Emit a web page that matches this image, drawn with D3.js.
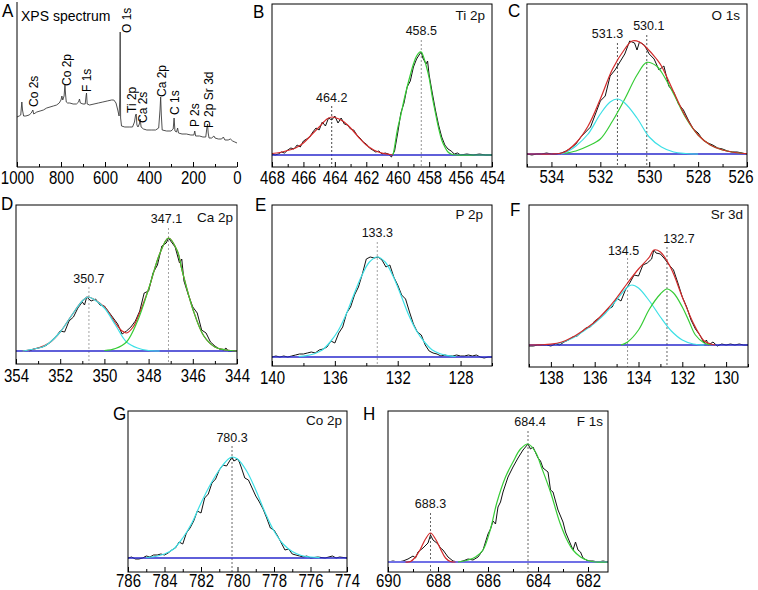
<!DOCTYPE html>
<html>
<head>
<meta charset="utf-8">
<script src="https://cdn.jsdelivr.net/npm/d3@7"></script>
<style>
  body { margin: 0; background: #fff; }
  svg { font-family: "Liberation Sans", Arial, Helvetica, sans-serif; }
</style>
</head>
<body>
<div id="chart"></div>
<script>
// ---- A: survey spectrum (binding energy, eV / counts a.u.) ----
var surveyBE = [1000, 990, 983, 978, 975, 970, 960, 945, 935, 928, 924, 910, 895, 880, 865, 850, 835, 820, 808, 800,
  796, 792, 786, 782, 779, 776, 770, 760, 745, 730, 720, 716, 712, 700, 690, 686, 684, 681, 670, 650,
  630, 610, 590, 570, 560, 550, 542, 536, 533, 531, 529, 525, 510, 490, 475, 466, 461, 458, 455, 450,
  444, 440, 436, 425, 410, 390, 370, 356, 350, 347, 344, 340, 320, 300, 290, 286, 282, 275, 270, 266,
  250, 230, 210, 196, 192, 188, 170, 155, 142, 137, 134, 131, 127, 115, 105, 100, 85, 70, 62, 55,
  40, 30, 20, 10, 0];
var surveyCounts = [50, 51, 52, 65, 57, 51, 51, 52, 54, 57, 53, 55, 56, 57, 59, 60, 61, 62, 64, 67,
  71, 67, 71, 82, 72, 65, 64, 64, 63, 63, 65, 68, 64, 63, 63, 71, 74, 63, 62, 63,
  64, 65, 66, 67, 67, 64, 57, 51, 67, 135, 49, 41, 40, 40, 40, 45, 52, 53, 42, 40,
  43, 48, 40, 38, 37, 37, 37, 39, 57, 70, 52, 37, 36, 36, 38, 49, 36, 35, 39, 34,
  33, 33, 32, 32, 36, 31, 31, 30, 30, 39, 43, 34, 29, 29, 31, 29, 28, 28, 30, 27,
  27, 28, 26, 25, 24];
var surveyNames = ["Co 2s", "Co 2p", "F 1s", "O 1s", "Ti 2p", "Ca 2s", "Ca 2p", "C 1s", "P 2s", "P 2p Sr 3d"];
var surveyNameAt = [923, 773, 682, 500, 477, 427, 341, 282, 191, 127];

// ---- B: Ti 2p ----
var tiPeaks = [464.2, 458.5];
var tiRaw = [[468,1],[467.8,0],[467.6,1],[467.4,3],[467.2,2],[467,5],[466.8,7],[466.6,6],[466.4,10],[466.2,8],
  [466,14],[465.8,16],[465.6,18],[465.4,23],[465.2,27],[465,25],[464.8,33],[464.6,29],[464.4,37],[464.2,35],
  [464,39],[463.8,32],[463.6,37],[463.4,31],[463.2,30],[463,26],[462.8,25],[462.6,20],[462.4,17],[462.2,13],
  [462,11],[461.8,7],[461.6,5],[461.4,3],[461.2,4],[461,1],[460.8,2],[460.6,1],[460.4,-2],[460.2,4],
  [460,22],[459.8,42],[459.6,52],[459.4,68],[459.2,74],[459,88],[458.8,96],[458.6,101],[458.5,103],[458.4,97],
  [458.2,91],[458.1,94],[458,80],[457.8,62],[457.6,45],[457.4,30],[457.2,18],[457,10],[456.8,6],[456.6,4],
  [456.4,1],[456.2,2],[456,0],[455.6,1],[455.2,0],[454.8,1],[454.4,0],[454,0]];
var tiFitHigh = [[468,1.5],[467.5,2.5],[467,4.5],[466.5,7],[466,12],[465.5,20],[465,28],[464.5,36],[464.2,38],[464,37.5],
  [463.5,34],[463,27],[462.5,18],[462,10],[461.5,4.8],[461,1.9],[460.5,0.5],[460.3,0]];
var tiFitLow = [[460.3,0],[460.2,8],[460.1,18],[460,27],[459.8,40],[459.6,55],[459.4,68],[459.2,80],[459,91],[458.8,99],
  [458.6,103],[458.5,103],[458.4,100],[458.2,90],[458,77],[457.8,58],[457.6,42],[457.4,27],[457.2,15],[457,8],
  [456.8,3],[456.6,1],[456.3,0],[455,0],[454,0]];

// ---- C: O 1s ----
var oPeaks = [531.3, 530.1];
var oRaw = [[535,0],[534.8,-1],[534.6,0],[534.4,0],[534.2,1],[534,0],[533.8,0],[533.6,1],[533.4,3],[533.2,6],
  [533,10],[532.8,17],[532.6,22],[532.4,27],[532.2,40],[532,53],[531.8,58],[531.6,78],[531.4,84],[531.2,92],
  [531,100],[530.8,113],[530.6,111],[530.5,104],[530.4,112],[530.2,109],[530,100],[529.8,95],[529.6,84],[529.4,88],
  [529.2,68],[529,62],[528.8,50],[528.6,44],[528.4,34],[528.2,25],[528,21],[527.8,14],[527.6,11],[527.4,9],
  [527.2,6],[527,5],[526.8,3],[526.6,2],[526.4,2],[526.2,1],[526,0]];
var oFitOH = [[533.6,0],[533.3,3],[533,8],[532.5,20],[532,40],[531.6,52],[531.3,55],[531,51],[530.5,36],[530,17],
  [529.5,7],[529,2],[528.5,0.5],[528,0]];
var oFitLattice = [[533.5,0.5],[533,3],[532.5,8],[532,15],[531.5,33],[531,55],[530.5,79],[530.1,91.6],[529.7,88],[529.5,82],
  [529,60],[528.5,36],[528,19],[527.5,9],[527,4],[526.5,1.5],[526,0.3]];
var oEnvelope = [[535,0],[534.5,0],[534,0],[533.5,1.5],[533,11],[532.5,28],[532,55],[531.5,85],[531,105],[530.7,113],
  [530.4,112],[530.1,106],[529.7,95],[529.5,88],[529,62],[528.5,37],[528,19],[527.5,9],[527,4],[526.5,1.5],[526,0.3]];

// ---- D: Ca 2p ----
var caPeaks = [350.7, 347.1];
var caRaw = [[353.4,0],[353.2,2],[353,3],[352.8,4],[352.6,6],[352.4,10],[352.2,14],[352,20],[351.8,19],[351.6,30],
  [351.4,34],[351.2,43],[351,49],[350.9,46],[350.8,54],[350.6,50],[350.4,52],[350.2,46],[350,45],[349.8,39],
  [349.6,33],[349.4,27],[349.2,17],[349,20],[348.8,24],[348.6,30],[348.4,40],[348.2,58],[348,60],[347.8,78],
  [347.6,86],[347.4,105],[347.2,108],[347.1,113],[347,110],[346.8,104],[346.6,88],[346.5,92],[346.4,70],[346.2,56],
  [346,44],[345.8,38],[345.6,21],[345.4,18],[345.2,9],[345,5],[344.8,2],[344.6,1],[344.5,3],[344.4,0],
  [344.2,0],[344,0]];
var caFit12 = [[353.7,0],[353.2,2],[352.8,4],[352.5,8],[352,19],[351.5,35],[351,50],[350.75,54],[350.5,52],[350,43],
  [349.5,26],[349,9],[348.5,3],[348,0.5],[347.5,0]];
var caFit32 = [[350,0.5],[349.5,2.5],[349,9],[348.5,30],[348,62],[347.5,97],[347.1,113],[346.7,100],[346.5,82],[346,42],
  [345.5,15],[345,4],[344.5,1],[344,0]];
var caEnvelope = [[353.7,0],[353,3],[352.5,8],[352,19],[351.5,35],[351,50],[350.75,54],[350.5,52],[350,44],[349.5,28],
  [349.2,20],[349,18],[348.7,24],[348.5,33],[348,62],[347.5,97],[347.1,113],[346.7,100],[346.5,82],[346,42],
  [345.5,15],[345,4],[344.5,1],[344,0]];

// ---- E: P 2p ----
var pPeaks = [133.3];
var pRaw = [[140,0],[139.75,1],[139.5,0],[139.25,1],[139,0],[138.75,1],[138.5,2],[138.25,3],[138,3],[137.75,4],
  [137.5,5],[137.25,4],[137,7],[136.75,8],[136.5,10],[136.25,16],[136,14],[135.75,24],[135.5,30],[135.25,44],
  [135,50],[134.75,62],[134.5,70],[134.25,83],[134,98],[133.75,100],[133.5,99],[133.25,100],[133,97],[132.75,90],
  [132.5,92],[132.25,80],[132,72],[131.75,62],[131.5,58],[131.25,45],[131,33],[130.75,25],[130.5,22],[130.25,12],
  [130,6],[129.75,4],[129.5,3],[129.25,1],[129,2],[128.75,1],[128.5,1],[128.25,2],[128,1],[127.75,1],
  [127.5,2],[127.25,1],[127,2],[126.75,0],[126.5,-1],[126.25,0],[126,0]];
var pFit = [[138.3,0.5],[137.8,1.3],[137.3,3.3],[136.8,7],[136.3,15],[135.8,26],[135.3,42],[134.8,62],[134.3,81],[133.8,95],
  [133.3,100],[132.8,95],[132.3,81],[131.8,62],[131.3,42],[130.8,26],[130.3,15],[129.8,7],[129.3,3.3],[128.8,1.3],[128.3,0.5]];

// ---- F: Sr 3d ----
var srPeaks = [134.5, 132.7];
var srRaw = [[139,-1],[138.8,-1],[138.6,0],[138.4,0],[138.2,0],[138,-1],[137.8,1],[137.6,0],[137.4,3],[137.2,5],
  [137,8],[136.8,9],[136.6,13],[136.4,17],[136.2,18],[136,24],[135.8,27],[135.6,31],[135.4,36],[135.2,38],
  [135,47],[134.8,44],[134.6,55],[134.4,62],[134.2,70],[134,69],[133.8,80],[133.6,82],[133.4,86],[133.3,95],
  [133.2,92],[133,91],[132.8,86],[132.6,80],[132.4,75],[132.2,62],[132,48],[131.8,38],[131.6,25],[131.4,16],
  [131.2,10],[131,2],[130.9,5],[130.8,0],[130.6,3],[130.4,-1],[130.2,1],[130,0],[129.8,1],[129.6,0],
  [129.4,1],[129.2,0],[129,0]];
var srFit52 = [[137.8,1],[137.5,2.5],[137,7],[136.5,14],[136,22],[135.5,32],[135,45],[134.5,58],[134.3,60],[134,57],
  [133.5,44],[133,28],[132.5,14],[132,5],[131.5,1],[131,0]];
var srFit32 = [[134.8,0],[134.5,3],[134,15],[133.5,36],[133,51],[132.7,56],[132.4,52],[132,38],[131.7,24],[131.4,10],
  [131,2],[130.7,0]];
var srEnvelope = [[139,0],[138.5,0.2],[138,0.8],[137.5,3],[137,8],[136.5,15],[136,23],[135.5,34],[135,47],[134.5,62],
  [134,76],[133.5,88],[133.3,95],[133,93],[132.5,76],[132,48],[131.5,22],[131.2,10],[131,4],[130.7,1],[130.5,0]];

// ---- G: Co 2p ----
var coPeaks = [780.3];
var coRaw = [[786,0],[785.8,1],[785.6,-1],[785.4,-1],[785.2,0],[785,2],[784.8,1],[784.6,3],[784.4,3],[784.2,4],
  [784,3],[783.8,5],[783.6,8],[783.4,10],[783.2,16],[783,14],[782.8,25],[782.6,30],[782.4,37],[782.2,47],
  [782,45],[781.8,60],[781.6,64],[781.4,75],[781.2,79],[781,88],[780.8,93],[780.6,92],[780.4,98],[780.3,101],
  [780.2,97],[780,99],[779.9,96],[779.8,91],[779.6,80],[779.4,78],[779.2,70],[779,62],[778.8,56],[778.6,49],
  [778.4,40],[778.2,30],[778,28],[777.8,22],[777.6,15],[777.4,8],[777.2,9],[777,4],[776.8,3],[776.6,2],
  [776.4,1],[776.2,2],[776,0],[775.6,1],[775.2,0],[774.8,2],[774.6,0],[774.4,1],[774,0]];
var coFit = [[785,0.5],[784.5,1.5],[784,4],[783.5,9],[783,20],[782.5,35],[782,55],[781.5,73],[781,88],[780.5,99],
  [780.3,101],[780,99],[779.5,87],[779,68],[778.5,46],[778,27],[777.5,14],[777,6.5],[776.5,2.5],[776,1],[775.5,0.3]];

// ---- H: F 1s ----
var fPeaks = [688.3, 684.4];
var fRaw = [[690,0],[689.8,1],[689.6,0],[689.4,1],[689.2,3],[689,6],[688.9,4],[688.8,10],[688.6,14],[688.4,19],
  [688.3,27],[688.2,22],[688,18],[687.9,14],[687.8,12],[687.6,5],[687.4,1],[687.2,0],[687,1],[686.8,3],
  [686.6,2],[686.4,5],[686.2,12],[686,28],[685.9,33],[685.8,41],[685.7,38],[685.6,55],[685.5,60],[685.4,70],
  [685.2,85],[685,95],[684.8,104],[684.6,112],[684.4,118],[684.3,113],[684.2,115],[684,104],[683.9,101],[683.8,94],
  [683.6,90],[683.5,72],[683.4,70],[683.2,52],[683,40],[682.9,30],[682.8,24],[682.6,12],[682.5,20],[682.4,12],
  [682.3,10],[682.2,4],[682,1],[681.8,1],[681.6,0],[681.4,1],[681.2,0]];
var fFitMinor = [[689.3,0],[689.1,0.5],[688.9,5],[688.7,13],[688.5,23],[688.3,29],[688.1,23],[687.9,13],[687.7,4],[687.5,0.5],[687.3,0]];
var fFitMain = [[687.2,0],[686.8,2],[686.5,5],[686.2,12],[685.9,33],[685.65,59],[685.3,85],[685,100],[684.7,113],[684.4,118],
  [684.1,110],[683.85,94],[683.5,70],[683.12,39],[682.8,20],[682.6,12],[682.3,5],[682,1.5],[681.7,0],[681.2,0]];

// colours
var GREEN = "#36cc36", CYAN = "#3de0e6", RED = "#d22a2a", BLUE = "#2a2acc";

var width = 758,
  height = 590;

var svg = d3.select("#chart").append("svg")
  .attr("width", width)
  .attr("height", height);

function panelLetter(txt, x, y) {
  svg.append("text")
    .attr("transform", "translate(" + x + "," + y + ") scale(1,1.1)")
    .attr("font-size", 17)
    .attr("fill", "#000")
    .text(txt);
}

function bottomTicks(g, x, bottom, major, minor, lblOff) {
  var dom = x.domain(),
    lo = Math.min(dom[0], dom[1]),
    hi = Math.max(dom[0], dom[1]);
  var all = d3.range(Math.ceil(lo / minor) * minor, hi + 1e-6, minor);
  var majors = all.filter(function(v) { return Math.abs(v / major - Math.round(v / major)) < 1e-6; });
  var minors = all.filter(function(v) { return majors.indexOf(v) < 0; });

  g.append("g")
    .attr("transform", "translate(0," + bottom + ")")
    .call(d3.axisBottom(x).tickValues(minors).tickSize(-3).tickFormat(""))
    .call(function(a) { a.select(".domain").remove(); });

  var ax = g.append("g")
    .attr("transform", "translate(0," + bottom + ")")
    .call(d3.axisBottom(x).tickValues(majors).tickSize(-5).tickFormat(d3.format("d")));
  ax.select(".domain").remove();
  ax.selectAll(".tick line").attr("stroke", "#000");
  ax.selectAll(".tick text")
    .attr("y", null)
    .attr("dy", null)
    .attr("font-size", 15)
    .attr("font-family", null)
    .attr("fill", "#000")
    .attr("transform", function(v) {
      // keep the last label inside the page
      var w = this.getComputedTextLength(),
        shift = Math.min(0, (width - 5) - (x(v) + w / 2));
      return "translate(" + shift + "," + lblOff + ") scale(1,1.2)";
    });
  return ax;
}

// ---------- panel A ----------
(function() {
  var left = 17, right = 237, top = 2, bottom = 167;
  var x = d3.scaleLinear().domain([1000, 0]).range([left, right]);
  var y = d3.scaleLinear().domain([0, 165]).range([bottom, top]);
  var labelBottom = [107, 86, 92, 33, 113, 123, 97, 115, 127, 128];

  var g = svg.append("g");
  var survey = surveyBE.map(function(be, i) { return [be, surveyCounts[i]]; });

  g.append("path")
    .datum(survey)
    .attr("fill", "none")
    .attr("stroke", "#3c3c3c")
    .attr("stroke-width", 0.9)
    .attr("d", d3.line().x(function(d) { return x(d[0]); }).y(function(d) { return y(d[1]); }));

  g.append("line")
    .attr("x1", left).attr("x2", left)
    .attr("y1", top).attr("y2", bottom)
    .attr("stroke", "#000");
  g.append("line")
    .attr("x1", left).attr("x2", right)
    .attr("y1", bottom).attr("y2", bottom)
    .attr("stroke", "#000");

  bottomTicks(g, x, bottom, 200, 100, 17);

  g.append("text")
    .attr("x", 21).attr("y", 21)
    .attr("font-size", 14)
    .text("XPS spectrum");

  surveyNames.forEach(function(name, i) {
    g.append("text")
      .attr("transform", "translate(" + x(surveyNameAt[i]) + "," + labelBottom[i] + ") rotate(-90)")
      .attr("dy", "0.36em")
      .attr("font-size", 12)
      .text(name);
  });

  panelLetter("A", 2, 17);
})();

// ---------- detail panels ----------
var panels = [
  { id: "B", name: "Ti 2p", left: 272, right: 492, top: 4, bottom: 167, base: 155, domain: [468, 454], major: 2, minor: 1,
    raw: tiRaw, fits: [[tiFitHigh, RED], [tiFitLow, GREEN]], peaks: tiPeaks,
    peakLabelY: [101.5, 35], peakLineTop: [106, 40], peakDx: [0, 0], peakColor: ["#333", "#888"],
    nameRight: 485, nameY: 20, letter: [253, 18], lblOff: 17 },
  { id: "C", name: "O 1s", left: 527, right: 747, top: 4, bottom: 167, base: 154, domain: [535, 526], major: 2, minor: 1,
    raw: oRaw, fits: [[oFitLattice, GREEN], [oFitOH, CYAN], [oEnvelope, RED]], peaks: oPeaks,
    peakLabelY: [38, 29.5], peakLineTop: [43, 35], peakDx: [-10, 2], peakColor: ["#444", "#444"],
    nameRight: 740, nameY: 20, letter: [508, 17], lblOff: 16 },
  { id: "D", name: "Ca 2p", left: 16, right: 237, top: 205, bottom: 364, base: 351, domain: [354, 344], major: 2, minor: 1,
    raw: caRaw, fits: [[caEnvelope, RED], [caFit12, CYAN], [caFit32, GREEN]], peaks: caPeaks,
    peakLabelY: [282.5, 223], peakLineTop: [287, 228], peakDx: [0, -2], peakColor: ["#999", "#999"],
    nameRight: 233, nameY: 222, letter: [1, 210], lblOff: 18 },
  { id: "E", name: "P 2p", left: 272, right: 492, top: 205, bottom: 366, base: 357, domain: [140, 126], major: 4, minor: 2,
    raw: pRaw, fits: [[pFit, CYAN]], peaks: pPeaks,
    peakLabelY: [236.5], peakLineTop: [242], peakDx: [0], peakColor: ["#999"],
    nameRight: 483, nameY: 219, letter: [255, 211], lblOff: 18 },
  { id: "F", name: "Sr 3d", left: 529, right: 748, top: 205, bottom: 367, base: 345, domain: [139, 129], major: 2, minor: 1,
    raw: srRaw, fits: [[srFit52, CYAN], [srFit32, GREEN], [srEnvelope, RED]], peaks: srPeaks,
    peakLabelY: [255, 243], peakLineTop: [258, 247], peakDx: [-4, 12], peakColor: ["#888", "#555"],
    nameRight: 743, nameY: 219, letter: [510, 216], lblOff: 17 },
  { id: "G", name: "Co 2p", left: 128, right: 347, top: 411, bottom: 572, base: 558, domain: [786, 774], major: 2, minor: 1,
    raw: coRaw, fits: [[coFit, CYAN]], peaks: coPeaks,
    peakLabelY: [441.5], peakLineTop: [446], peakDx: [0], peakColor: ["#555"],
    nameRight: 342, nameY: 425, letter: [113, 420], lblOff: 15 },
  { id: "H", name: "F 1s", left: 388, right: 608, top: 411, bottom: 572, base: 562, domain: [690, 681.2], major: 2, minor: 1,
    raw: fRaw, fits: [[fFitMinor, RED], [fFitMain, GREEN]], peaks: fPeaks,
    peakLabelY: [508, 426], peakLineTop: [513, 431], peakDx: [0, 2], peakColor: ["#555", "#555"],
    nameRight: 603, nameY: 426, letter: [363, 420], lblOff: 15, baseColor: "#7070e6", baseWidth: 2 }
];

panels.forEach(function(p) {
  var x = d3.scaleLinear().domain(p.domain).range([p.left, p.right]);
  var y = d3.scaleLinear().domain([p.base - p.bottom, p.base - p.top]).range([p.bottom, p.top]);

  var g = svg.append("g").attr("class", "panel panel-" + p.id);

  svg.append("clipPath").attr("id", "clip-" + p.id)
    .append("rect")
    .attr("x", p.left).attr("y", p.top)
    .attr("width", p.right - p.left).attr("height", p.bottom - p.top);

  var plot = g.append("g").attr("clip-path", "url(#clip-" + p.id + ")");

  var rawLine = d3.line()
    .x(function(d) { return x(d[0]); })
    .y(function(d) { return y(d[1]); });
  var fitLine = d3.line()
    .x(function(d) { return x(d[0]); })
    .y(function(d) { return y(d[1]); })
    .curve(d3.curveCatmullRom.alpha(0.5));

  // peak position markers
  p.peaks.forEach(function(be, i) {
    plot.append("line")
      .attr("x1", x(be)).attr("x2", x(be))
      .attr("y1", p.peakLineTop[i]).attr("y2", p.bottom)
      .attr("stroke", p.peakColor[i])
      .attr("stroke-width", 0.9)
      .attr("stroke-dasharray", "2,2");
    g.append("text")
      .attr("x", x(be) + p.peakDx[i])
      .attr("y", p.peakLabelY[i])
      .attr("text-anchor", "middle")
      .attr("font-size", 12.5)
      .attr("fill", "#111")
      .text(d3.format(".1f")(be));
  });

  plot.append("path")
    .datum(p.raw)
    .attr("fill", "none")
    .attr("stroke", "#111")
    .attr("stroke-width", 1)
    .attr("d", rawLine);

  plot.append("path")
    .datum([[p.domain[0], 0], [p.domain[1], 0]])
    .attr("fill", "none")
    .attr("stroke", p.baseColor || BLUE)
    .attr("stroke-width", p.baseWidth || 1.3)
    .attr("d", rawLine);

  p.fits.forEach(function(f) {
    plot.append("path")
      .datum(f[0])
      .attr("fill", "none")
      .attr("stroke", f[1])
      .attr("stroke-width", 1.2)
      .attr("d", fitLine);
  });

  g.append("rect")
    .attr("x", p.left).attr("y", p.top)
    .attr("width", p.right - p.left).attr("height", p.bottom - p.top)
    .attr("fill", "none")
    .attr("stroke", "#000")
    .attr("stroke-width", 1);

  bottomTicks(g, x, p.bottom, p.major, p.minor, p.lblOff);

  g.append("text")
    .attr("x", p.nameRight)
    .attr("y", p.nameY)
    .attr("text-anchor", "end")
    .attr("font-size", 13.5)
    .attr("fill", "#111")
    .text(p.name);

  panelLetter(p.id, p.letter[0], p.letter[1]);
});
</script>
</body>
</html>
